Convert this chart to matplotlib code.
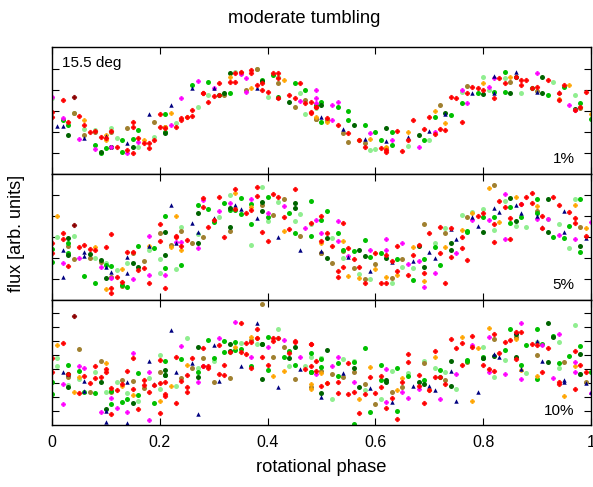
import matplotlib
matplotlib.use("Agg")
import matplotlib.pyplot as plt

plt.rcParams['font.family'] = ['Liberation Sans', 'DejaVu Sans']

# ---- phase / flux samples, one list per colour series and panel ----
# panel 1 (1% noise)
p1_red = [(0.00, 2.97), (0.00, 2.73), (0.02, 3.52), (0.05, 2.76), (0.03, 2.49), (0.06, 2.33), (0.07, 2.02),
          (0.08, 2.05), (0.09, 1.78), (0.11, 2.06), (0.10, 1.70), (0.12, 1.30), (0.14, 1.14), (0.15, 0.98),
          (0.15, 2.49), (0.15, 2.25), (0.16, 1.70), (0.17, 1.46), (0.18, 1.22), (0.18, 1.46), (0.19, 1.62),
          (0.20, 2.86), (0.20, 2.25), (0.21, 2.17), (0.23, 2.25), (0.24, 2.57), (0.24, 2.65), (0.25, 2.73),
          (0.26, 2.76), (0.26, 3.05), (0.28, 3.84), (0.28, 3.84), (0.29, 3.44), (0.30, 3.70), (0.31, 4.32),
          (0.31, 3.76), (0.33, 4.40), (0.34, 4.40), (0.34, 4.79), (0.35, 4.84), (0.37, 4.95), (0.37, 4.79),
          (0.38, 4.24), (0.39, 4.32), (0.39, 4.00), (0.40, 3.92), (0.41, 4.79), (0.42, 4.82), (0.42, 4.56),
          (0.42, 3.60), (0.44, 3.76), (0.45, 3.60), (0.46, 4.32), (0.47, 3.40), (0.48, 3.44), (0.48, 2.97),
          (0.49, 3.21), (0.48, 2.92), (0.49, 3.21), (0.51, 2.65), (0.53, 2.33), (0.55, 1.94), (0.57, 1.62),
          (0.58, 1.30), (0.61, 1.22), (0.62, 1.14), (0.62, 1.06), (0.64, 2.06), (0.65, 1.11), (0.66, 1.62),
          (0.67, 2.57), (0.69, 2.13), (0.70, 2.70), (0.71, 1.90), (0.72, 2.13), (0.73, 2.10), (0.74, 3.68),
          (0.75, 3.60), (0.76, 2.49), (0.77, 3.87), (0.78, 4.16), (0.79, 4.08), (0.80, 4.00), (0.82, 3.60),
          (0.83, 4.56), (0.84, 4.32), (0.86, 4.63), (0.87, 4.48), (0.87, 4.24), (0.88, 4.48), (0.89, 4.08),
          (0.90, 4.16), (0.92, 4.48), (0.94, 3.52), (0.94, 3.84), (0.95, 4.24), (0.98, 3.21), (0.99, 3.92),
          (0.97, 3.05)]
p1_magenta = [(0.00, 3.65), (0.02, 2.66), (0.05, 1.67), (0.08, 1.19), (0.11, 1.30), (0.14, 0.98), (0.16, 1.54),
              (0.22, 2.33), (0.24, 3.60), (0.27, 4.44), (0.30, 4.08), (0.35, 4.76), (0.36, 4.56), (0.36, 3.92),
              (0.46, 3.48), (0.49, 3.40), (0.49, 3.60), (0.49, 3.98), (0.52, 3.28), (0.53, 3.44), (0.52, 2.57),
              (0.59, 1.94), (0.63, 1.62), (0.68, 1.30), (0.71, 2.02), (0.76, 3.98), (0.77, 3.37), (0.81, 4.16),
              (0.82, 4.56), (0.90, 4.83), (0.96, 3.28), (0.97, 3.05)]
p1_orange = [(0.06, 2.57), (0.10, 1.86), (0.10, 1.62), (0.17, 1.62), (0.21, 2.25), (0.22, 2.89), (0.25, 2.73),
             (0.33, 4.63), (0.35, 4.79), (0.37, 4.08), (0.43, 4.48), (0.49, 2.73), (0.51, 2.49), (0.57, 1.62),
             (0.59, 1.65), (0.62, 1.30), (0.66, 2.02), (0.71, 3.02), (0.73, 2.44), (0.80, 4.32), (0.85, 4.60),
             (0.94, 3.55), (0.96, 4.24), (1.00, 2.86)]
p1_green = [(0.02, 2.57), (0.03, 2.33), (0.08, 1.38), (0.09, 0.98), (0.10, 1.22), (0.11, 1.30), (0.13, 1.06),
            (0.13, 1.62), (0.15, 1.65), (0.16, 2.09), (0.21, 2.86), (0.21, 2.00), (0.26, 4.24), (0.29, 4.40),
            (0.31, 3.76), (0.33, 3.84), (0.35, 4.83), (0.39, 4.50), (0.41, 4.71), (0.42, 3.68), (0.45, 4.32),
            (0.47, 4.00), (0.49, 3.28), (0.50, 3.44), (0.50, 2.49), (0.53, 3.21), (0.55, 3.02), (0.55, 2.57),
            (0.58, 2.33), (0.60, 1.98), (0.61, 1.62), (0.63, 2.02), (0.63, 1.38), (0.69, 1.62), (0.71, 2.70),
            (0.74, 2.81), (0.76, 3.37), (0.79, 3.84), (0.82, 3.92), (0.84, 4.87), (0.84, 3.92), (0.89, 4.08),
            (0.92, 3.76), (0.95, 4.16), (0.98, 3.40), (1.00, 2.62)]
p1_darkgreen = [(0.03, 1.86), (0.09, 1.03), (0.11, 1.27), (0.15, 1.30), (0.21, 1.94), (0.32, 3.84), (0.33, 4.79),
                (0.39, 4.45), (0.44, 3.44), (0.50, 3.28), (0.56, 2.33), (0.62, 2.17), (0.68, 1.86), (0.73, 2.92),
                (0.80, 3.81), (0.85, 3.87), (0.86, 4.60), (0.91, 3.84), (0.91, 4.63), (0.97, 3.08)]
p1_lightgreen = [(0.00, 3.60), (0.04, 2.89), (0.06, 2.13), (0.08, 2.09), (0.11, 2.17), (0.12, 1.70), (0.16, 1.27),
                 (0.19, 1.78), (0.23, 2.44), (0.27, 3.21), (0.29, 3.76), (0.31, 3.76), (0.34, 4.87), (0.38, 4.98),
                 (0.40, 3.65), (0.42, 4.60), (0.46, 3.84), (0.47, 2.86), (0.49, 3.13), (0.57, 1.62), (0.59, 1.14),
                 (0.60, 1.17), (0.66, 1.33), (0.70, 1.62), (0.76, 3.92), (0.80, 4.63), (0.81, 3.98), (0.84, 4.56),
                 (0.87, 3.84), (0.93, 4.40), (0.97, 3.76)]
p1_brown = [(0.04, 2.89), (0.06, 1.86), (0.08, 2.02), (0.11, 2.02), (0.14, 2.17), (0.19, 2.49), (0.21, 2.22),
            (0.32, 3.76), (0.36, 4.00), (0.38, 4.98), (0.42, 4.32), (0.45, 3.21), (0.47, 3.52), (0.49, 2.60),
            (0.49, 2.62), (0.51, 2.57), (0.54, 1.97), (0.55, 1.54), (0.58, 1.46), (0.62, 1.22), (0.72, 3.28),
            (0.77, 4.19), (0.85, 4.40), (0.90, 3.97), (0.98, 3.13)]
p1_navy = [(0.01, 2.29), (0.02, 2.29), (0.06, 1.70), (0.10, 1.81), (0.14, 1.46), (0.18, 2.86), (0.22, 3.30),
           (0.26, 4.10), (0.30, 4.10), (0.38, 4.08), (0.42, 3.68), (0.50, 2.70), (0.54, 2.13), (0.58, 1.67),
           (0.62, 1.59), (0.66, 1.78), (0.70, 2.06), (0.73, 2.86), (0.78, 3.87), (0.82, 3.84), (0.82, 4.67),
           (0.86, 4.87), (0.90, 3.92), (0.94, 3.92)]
p1_darkred = [(0.04, 3.65)]

# panel 2 (5% noise)
p2_red = [(0.00, 2.73), (0.00, 2.25), (0.02, 2.89), (0.02, 3.20), (0.03, 1.62), (0.05, 2.50), (0.06, 2.60),
          (0.07, 2.45), (0.08, 2.38), (0.10, 2.50), (0.11, 3.13), (0.11, 0.55), (0.11, 0.35), (0.12, 1.11),
          (0.13, 0.87), (0.14, 2.30), (0.15, 2.28), (0.16, 1.43), (0.17, 1.50), (0.18, 0.79), (0.20, 3.62),
          (0.20, 2.83), (0.21, 0.55), (0.23, 3.05), (0.23, 3.00), (0.24, 2.57), (0.25, 2.86), (0.28, 4.84),
          (0.28, 4.41), (0.29, 3.46), (0.30, 3.80), (0.31, 4.92), (0.32, 2.98), (0.34, 5.27), (0.34, 4.32),
          (0.36, 4.13), (0.37, 4.29), (0.38, 5.36), (0.38, 4.95), (0.39, 3.22), (0.40, 2.83), (0.41, 5.05),
          (0.42, 4.92), (0.43, 3.97), (0.44, 3.40), (0.45, 5.27), (0.48, 3.68), (0.50, 2.81), (0.50, 4.00),
          (0.51, 3.17), (0.52, 2.57), (0.53, 1.11), (0.53, 1.40), (0.54, 3.68), (0.54, 1.55), (0.55, 2.46),
          (0.56, 1.94), (0.57, 1.59), (0.58, 0.83), (0.60, 2.22), (0.61, 0.83), (0.62, 2.14), (0.62, 0.83),
          (0.63, 1.87), (0.64, 1.40), (0.64, 2.57), (0.66, 1.19), (0.67, 2.14), (0.68, 2.62), (0.69, 1.30),
          (0.70, 3.21), (0.72, 3.46), (0.72, 2.25), (0.73, 0.79), (0.74, 2.03), (0.74, 3.41), (0.76, 3.00),
          (0.76, 2.46), (0.77, 1.90), (0.79, 4.00), (0.80, 4.16), (0.82, 3.62), (0.82, 2.78), (0.83, 4.73),
          (0.84, 4.44), (0.85, 2.89), (0.85, 3.89), (0.87, 4.57), (0.88, 4.92), (0.89, 5.08), (0.89, 4.60),
          (0.91, 4.00), (0.91, 3.41), (0.93, 4.92), (0.94, 4.52), (0.96, 4.21), (0.97, 3.89), (0.97, 3.65),
          (0.99, 3.05)]
p2_magenta = [(0.02, 1.75), (0.05, 1.98), (0.09, 1.55), (0.11, 1.03), (0.15, 0.98), (0.18, 1.19), (0.18, 3.05),
              (0.21, 1.19), (0.23, 2.78), (0.24, 2.78), (0.27, 2.46), (0.28, 4.76), (0.31, 4.25), (0.33, 4.60),
              (0.37, 4.79), (0.40, 4.16), (0.43, 4.48), (0.47, 3.44), (0.49, 3.81), (0.50, 3.21), (0.53, 2.82),
              (0.53, 3.78), (0.55, 2.09), (0.59, 2.38), (0.62, 2.89), (0.62, 2.38), (0.65, 2.73), (0.66, 1.71),
              (0.68, 1.87), (0.69, 0.60), (0.71, 1.27), (0.75, 2.22), (0.78, 3.81), (0.81, 3.81), (0.84, 2.89),
              (0.84, 5.05), (0.87, 4.57), (0.90, 3.84), (0.92, 3.84), (0.94, 3.10), (0.97, 2.89), (1.00, 3.73)]
p2_orange = [(0.01, 4.00), (0.08, 2.54), (0.10, 0.51), (0.13, 1.46), (0.18, 2.57), (0.22, 2.50), (0.23, 4.00),
             (0.24, 2.38), (0.34, 5.11), (0.37, 4.44), (0.43, 3.29), (0.50, 2.73), (0.54, 2.82), (0.55, 1.14),
             (0.57, 1.03), (0.60, 1.46), (0.62, 1.11), (0.64, 1.19), (0.67, 2.54), (0.69, 0.92), (0.73, 2.51),
             (0.76, 3.33), (0.78, 4.13), (0.81, 5.32), (0.83, 3.73), (0.86, 4.89), (0.90, 4.48), (0.97, 4.52),
             (0.99, 3.41)]
p2_green = [(0.00, 1.83), (0.00, 2.41), (0.03, 2.73), (0.03, 2.22), (0.06, 1.14), (0.08, 0.79), (0.10, 1.67),
            (0.11, 1.62), (0.13, 0.71), (0.14, 0.62), (0.16, 2.57), (0.19, 2.46), (0.21, 1.50), (0.21, 4.00),
            (0.24, 1.67), (0.27, 4.52), (0.29, 4.32), (0.30, 3.73), (0.32, 4.63), (0.33, 4.30), (0.34, 4.30),
            (0.35, 4.84), (0.35, 4.10), (0.37, 3.62), (0.37, 4.57), (0.40, 4.92), (0.40, 3.94), (0.44, 4.16),
            (0.45, 3.17), (0.48, 4.73), (0.48, 3.05), (0.50, 3.81), (0.51, 4.24), (0.53, 3.21), (0.54, 2.38),
            (0.56, 2.35), (0.58, 2.86), (0.59, 2.05), (0.61, 2.22), (0.64, 1.94), (0.67, 0.95), (0.69, 1.94),
            (0.71, 2.50), (0.72, 1.67), (0.77, 3.30), (0.77, 3.25), (0.80, 3.94), (0.82, 3.94), (0.85, 4.41),
            (0.85, 3.65), (0.87, 3.97), (0.90, 4.79), (0.90, 4.16), (0.93, 2.98), (0.95, 2.94), (0.96, 3.52),
            (0.98, 4.79), (0.98, 2.30)]
p2_darkgreen = [(0.03, 2.94), (0.03, 2.16), (0.07, 2.19), (0.09, 1.90), (0.10, 1.03), (0.15, 1.75), (0.16, 1.59),
                (0.21, 2.14), (0.21, 3.25), (0.27, 2.73), (0.27, 4.13), (0.33, 3.46), (0.33, 4.37), (0.39, 4.68),
                (0.39, 4.25), (0.45, 4.63), (0.45, 4.36), (0.51, 2.94), (0.51, 1.98), (0.57, 2.38), (0.58, 2.10),
                (0.62, 1.98), (0.68, 2.57), (0.69, 1.55), (0.74, 2.73), (0.74, 2.38), (0.80, 3.25), (0.85, 4.84),
                (0.86, 3.78), (0.92, 4.79), (0.92, 3.25), (0.98, 2.57)]
p2_lightgreen = [(0.01, 2.98), (0.04, 3.05), (0.08, 1.98), (0.10, 1.78), (0.12, 1.43), (0.14, 1.78), (0.18, 2.38),
                 (0.20, 1.94), (0.20, 1.27), (0.23, 1.46), (0.24, 3.46), (0.27, 3.14), (0.31, 3.97), (0.33, 5.00),
                 (0.37, 2.62), (0.39, 5.36), (0.40, 3.78), (0.42, 4.65), (0.45, 3.78), (0.46, 4.10), (0.48, 3.62),
                 (0.52, 2.94), (0.54, 1.98), (0.57, 1.24), (0.59, 0.98), (0.63, 0.79), (0.65, 1.55), (0.67, 1.51),
                 (0.71, 2.73), (0.73, 3.41), (0.76, 4.05), (0.78, 4.21), (0.80, 4.32), (0.82, 3.33), (0.84, 4.73),
                 (0.86, 3.50), (0.88, 3.46), (0.92, 3.84), (0.94, 3.62), (0.96, 2.46), (0.97, 4.79)]
p2_brown = [(0.03, 2.57), (0.04, 1.94), (0.07, 1.98), (0.09, 1.83), (0.11, 1.11), (0.13, 0.67), (0.15, 2.22),
            (0.17, 1.87), (0.20, 3.21), (0.22, 2.62), (0.24, 3.29), (0.26, 2.70), (0.28, 2.98), (0.33, 3.30),
            (0.39, 4.52), (0.41, 4.05), (0.43, 4.79), (0.46, 3.06), (0.50, 2.22), (0.50, 2.25), (0.52, 1.78),
            (0.54, 2.35), (0.56, 1.51), (0.58, 0.98), (0.60, 1.71), (0.63, 1.03), (0.65, 1.94), (0.69, 3.62),
            (0.73, 3.21), (0.77, 3.94), (0.82, 5.48), (0.90, 4.25), (0.98, 3.46)]
p2_navy = [(0.02, 1.11), (0.02, 2.38), (0.06, 2.28), (0.06, 2.10), (0.10, 1.55), (0.11, 1.35), (0.14, 2.03),
           (0.14, 1.27), (0.18, 2.57), (0.22, 4.51), (0.23, 2.73), (0.26, 3.68), (0.27, 3.25), (0.30, 3.89),
           (0.34, 4.52), (0.35, 4.32), (0.38, 3.89), (0.42, 3.00), (0.46, 2.38), (0.50, 2.35), (0.55, 2.03),
           (0.59, 1.40), (0.63, 1.83), (0.67, 1.87), (0.70, 2.30), (0.71, 1.98), (0.74, 3.36), (0.75, 2.89),
           (0.79, 3.52), (0.78, 3.97), (0.82, 4.36), (0.83, 4.20), (0.86, 4.52), (0.87, 4.16), (0.91, 3.46),
           (0.90, 4.00), (0.95, 4.25), (0.95, 3.25), (0.99, 2.94)]
p2_darkred = [(0.04, 3.57)]

# panel 3 (10% noise)
p3_red = [(0.00, 4.80), (0.00, 3.77), (0.02, 5.85), (0.03, 3.63), (0.05, 2.27), (0.06, 3.50), (0.07, 2.99),
          (0.08, 3.39), (0.09, 3.46), (0.08, 4.18), (0.10, 4.00), (0.10, 3.77), (0.11, 2.67), (0.11, 0.77),
          (0.12, 2.51), (0.13, 2.90), (0.14, 3.87), (0.15, 2.58), (0.15, 4.78), (0.16, 1.15), (0.17, 3.23),
          (0.17, 2.85), (0.18, 2.35), (0.19, 2.87), (0.20, 4.66), (0.20, 2.99), (0.20, 0.84), (0.21, 2.04),
          (0.21, 3.10), (0.21, 2.20), (0.23, 1.56), (0.23, 4.89), (0.24, 3.15), (0.25, 2.75), (0.25, 3.58),
          (0.25, 2.39), (0.26, 4.82), (0.28, 4.18), (0.28, 5.49), (0.29, 4.18), (0.29, 4.10), (0.31, 3.63),
          (0.31, 5.68), (0.32, 3.58), (0.32, 4.30), (0.33, 5.20), (0.35, 7.27), (0.35, 5.25), (0.36, 5.85),
          (0.36, 5.06), (0.37, 4.06), (0.37, 5.96), (0.38, 6.87), (0.38, 6.25), (0.39, 4.89), (0.40, 4.30),
          (0.41, 6.01), (0.41, 6.20), (0.42, 6.20), (0.44, 5.13), (0.45, 5.96), (0.45, 6.01), (0.47, 4.00),
          (0.48, 5.77), (0.48, 4.25), (0.49, 3.87), (0.48, 5.77), (0.49, 4.60), (0.50, 2.82), (0.51, 2.99),
          (0.53, 3.05), (0.53, 2.27), (0.55, 2.20), (0.55, 4.41), (0.56, 2.34), (0.57, 0.84), (0.58, 2.20),
          (0.59, 3.46), (0.60, 2.27), (0.61, 3.53), (0.61, 2.75), (0.62, 1.24), (0.63, 1.91), (0.64, 0.43),
          (0.65, 3.05), (0.66, 4.53), (0.66, 5.05), (0.68, 3.58), (0.68, 2.82), (0.69, 1.55), (0.70, 2.51),
          (0.71, 5.29), (0.71, 3.46), (0.72, 3.46), (0.73, 2.91), (0.74, 6.15), (0.75, 5.53), (0.76, 4.29),
          (0.76, 5.84), (0.78, 6.39), (0.78, 5.60), (0.80, 4.29), (0.81, 4.00), (0.82, 3.86), (0.82, 6.48),
          (0.83, 5.13), (0.84, 5.96), (0.85, 6.08), (0.86, 6.62), (0.86, 4.70), (0.87, 6.62), (0.89, 5.77),
          (0.90, 5.72), (0.91, 3.77), (0.92, 5.53), (0.94, 2.91), (0.94, 3.05), (0.97, 5.29), (0.97, 2.58),
          (0.98, 4.29), (0.99, 3.77)]
p3_magenta = [(0.02, 2.91), (0.02, 1.49), (0.05, 4.18), (0.06, 4.06), (0.09, 0.91), (0.11, 1.91), (0.12, 1.24),
              (0.14, 0.91), (0.15, 5.13), (0.18, 0.36), (0.18, 3.77), (0.24, 5.61), (0.27, 3.05), (0.28, 4.18),
              (0.31, 6.25), (0.34, 7.39), (0.37, 4.89), (0.40, 5.60), (0.43, 6.08), (0.46, 4.89), (0.49, 3.63),
              (0.53, 4.89), (0.52, 4.24), (0.56, 3.05), (0.62, 4.00), (0.62, 1.62), (0.65, 2.34), (0.66, 1.96),
              (0.68, 2.58), (0.72, 1.86), (0.75, 3.62), (0.78, 5.72), (0.81, 6.31), (0.81, 3.77), (0.84, 3.62),
              (0.87, 3.29), (0.87, 7.27), (0.91, 5.72), (0.93, 3.34), (0.94, 6.48), (0.97, 3.77), (0.97, 4.53),
              (1.00, 2.27)]
p3_orange = [(0.01, 5.68), (0.04, 2.39), (0.05, 3.46), (0.10, 4.41), (0.13, 2.82), (0.15, 2.15), (0.20, 1.73),
             (0.22, 2.82), (0.25, 4.30), (0.34, 5.54), (0.37, 6.32), (0.38, 6.20), (0.41, 3.53), (0.43, 3.87),
             (0.48, 2.58), (0.48, 2.91), (0.50, 3.70), (0.51, 2.99), (0.57, 1.86), (0.59, 4.17), (0.64, 2.51),
             (0.65, 3.39), (0.70, 2.51), (0.71, 4.89), (0.76, 6.31), (0.78, 1.72), (0.79, 5.53), (0.81, 6.96),
             (0.86, 6.15), (0.87, 3.93), (0.90, 3.53), (0.95, 2.10), (0.97, 4.24)]
p3_green = [(0.00, 2.20), (0.00, 3.05), (0.03, 4.30), (0.05, 3.87), (0.06, 2.39), (0.08, 2.27), (0.11, 1.49),
            (0.11, 2.44), (0.13, 1.63), (0.14, 1.87), (0.16, 2.11), (0.16, 3.70), (0.19, 1.56), (0.21, 4.58),
            (0.21, 3.58), (0.24, 4.72), (0.27, 3.82), (0.30, 4.82), (0.29, 6.08), (0.32, 6.01), (0.32, 5.20),
            (0.34, 5.37), (0.34, 5.91), (0.35, 5.44), (0.37, 4.18), (0.39, 5.77), (0.40, 6.32), (0.40, 3.94),
            (0.43, 4.89), (0.44, 5.29), (0.45, 4.30), (0.48, 5.13), (0.48, 3.77), (0.48, 3.77), (0.50, 4.72),
            (0.50, 4.17), (0.53, 3.53), (0.53, 4.41), (0.56, 4.48), (0.58, 5.53), (0.59, 0.91), (0.56, 0.05),
            (0.61, 4.29), (0.61, 3.22), (0.64, 1.00), (0.64, 4.10), (0.66, 3.53), (0.69, 3.20), (0.72, 3.93),
            (0.72, 3.46), (0.77, 4.65), (0.77, 4.58), (0.80, 4.81), (0.80, 4.88), (0.84, 5.36), (0.85, 6.86),
            (0.87, 4.29), (0.88, 5.72), (0.91, 5.77), (0.90, 6.86), (0.90, 3.29), (0.93, 6.39), (0.94, 4.41),
            (0.96, 4.96), (0.98, 5.67), (1.00, 3.77)]
p3_darkgreen = [(0.03, 2.75), (0.03, 3.63), (0.09, 3.05), (0.10, 1.15), (0.15, 1.56), (0.21, 3.58), (0.21, 3.94),
                (0.27, 3.46), (0.27, 5.54), (0.33, 5.77), (0.33, 5.30), (0.39, 3.30), (0.39, 5.77), (0.44, 4.77),
                (0.45, 5.54), (0.51, 5.36), (0.50, 2.27), (0.56, 4.10), (0.57, 2.74), (0.62, 3.20), (0.62, 3.05),
                (0.68, 3.05), (0.69, 2.91), (0.74, 2.82), (0.74, 4.58), (0.80, 4.81), (0.82, 4.96), (0.86, 6.48),
                (0.86, 4.89), (0.92, 4.53), (0.92, 7.27), (0.93, 6.31), (0.98, 3.62), (0.98, 5.05)]
p3_lightgreen = [(0.01, 4.82), (0.01, 4.25), (0.03, 2.84), (0.05, 3.30), (0.08, 3.77), (0.10, 2.39), (0.12, 3.05),
                 (0.14, 2.27), (0.16, 1.73), (0.18, 3.39), (0.20, 5.00), (0.20, 2.58), (0.23, 2.82), (0.25, 6.25),
                 (0.27, 4.10), (0.30, 4.58), (0.33, 5.25), (0.35, 5.85), (0.38, 5.77), (0.42, 6.87), (0.42, 6.25),
                 (0.44, 4.18), (0.47, 4.18), (0.50, 4.82), (0.48, 4.89), (0.50, 4.82), (0.52, 1.86), (0.54, 4.72),
                 (0.56, 4.58), (0.58, 2.51), (0.61, 1.86), (0.63, 3.86), (0.66, 3.70), (0.69, 4.58), (0.71, 4.10),
                 (0.73, 3.77), (0.75, 2.58), (0.80, 5.60), (0.82, 3.46), (0.84, 4.65), (0.88, 3.70), (0.90, 5.91),
                 (0.94, 5.91), (0.94, 4.10), (0.97, 7.15), (0.98, 3.62)]
p3_brown = [(0.03, 3.46), (0.05, 5.44), (0.07, 2.39), (0.09, 4.58), (0.11, 2.35), (0.13, 3.23), (0.15, 3.15),
            (0.17, 2.67), (0.20, 3.82), (0.24, 3.34), (0.26, 4.10), (0.28, 4.77), (0.30, 3.10), (0.33, 3.34),
            (0.37, 6.08), (0.39, 8.62), (0.41, 4.89), (0.43, 5.60), (0.45, 3.30), (0.48, 2.75), (0.50, 3.86),
            (0.52, 3.62), (0.54, 3.46), (0.56, 3.77), (0.58, 2.91), (0.60, 1.48), (0.63, 2.34), (0.65, 2.74),
            (0.69, 4.41), (0.73, 3.22), (0.77, 4.53), (0.82, 6.15), (0.86, 6.31), (0.90, 5.00), (0.95, 4.53),
            (0.99, 3.05)]
p3_navy = [(0.02, 3.82), (0.03, 3.63), (0.06, 2.44), (0.06, 3.15), (0.10, 1.01), (0.10, 0.20), (0.14, 3.05),
           (0.14, 0.13), (0.18, 4.58), (0.19, 2.91), (0.22, 6.77), (0.23, 3.82), (0.26, 4.41), (0.27, 0.77),
           (0.30, 5.73), (0.31, 3.15), (0.35, 4.18), (0.38, 7.27), (0.42, 2.75), (0.46, 4.00), (0.50, 2.03),
           (0.54, 3.70), (0.59, 2.62), (0.63, 1.67), (0.67, 2.82), (0.70, 2.82), (0.71, 2.51), (0.74, 3.86),
           (0.75, 1.72), (0.79, 2.39), (0.82, 5.05), (0.83, 4.89), (0.86, 6.62), (0.87, 4.00), (0.90, 6.00),
           (0.91, 4.58), (0.95, 3.05), (0.95, 3.20), (0.99, 2.98), (1.00, 2.34)]
p3_darkred = [(0.04, 7.82)]

panel_labels = ["1%", "5%", "10%"]
panel_ylims = [(0, 6.05), (0, 6.0), (0, 8.93)]
panel_yticks = [[1, 2, 3, 4, 5], [1, 2, 3, 4, 5], [1, 2, 3, 4, 5, 6, 7, 8]]
xticks = [0, 0.2, 0.4, 0.6, 0.8, 1]

# marker style per colour series: (colour, marker, size, edge width)
styles = {
    "lightgreen": ("#90ee90", "o", 3.6, 0),
    "brown": ("#a08030", "o", 3.6, 0),
    "green": ("#00c000", "o", 3.6, 0),
    "darkgreen": ("#006400", "o", 3.6, 0),
    "orange": ("#ffa500", "P", 3.0, 0.5),
    "magenta": ("#ff00ff", "P", 3.0, 0.5),
    "navy": ("#000080", "^", 3.2, 0),
    "red": ("#ff0000", "P", 3.2, 0.5),
    "darkred": ("#8b0000", "P", 3.2, 0.5),
}
order = ["lightgreen", "brown", "green", "darkgreen", "orange", "magenta", "navy", "red", "darkred"]

panels = [
    {"lightgreen": p1_lightgreen, "brown": p1_brown, "green": p1_green, "darkgreen": p1_darkgreen,
     "orange": p1_orange, "magenta": p1_magenta, "navy": p1_navy, "red": p1_red, "darkred": p1_darkred},
    {"lightgreen": p2_lightgreen, "brown": p2_brown, "green": p2_green, "darkgreen": p2_darkgreen,
     "orange": p2_orange, "magenta": p2_magenta, "navy": p2_navy, "red": p2_red, "darkred": p2_darkred},
    {"lightgreen": p3_lightgreen, "brown": p3_brown, "green": p3_green, "darkgreen": p3_darkgreen,
     "orange": p3_orange, "magenta": p3_magenta, "navy": p3_navy, "red": p3_red, "darkred": p3_darkred},
]

fig = plt.figure(figsize=(5.93, 4.87), dpi=100)

# axes boxes in figure fractions, top to bottom
boxes = [(0.0877, 0.6427, 0.9089, 0.2608),
         (0.0877, 0.3840, 0.9089, 0.2587),
         (0.0877, 0.1273, 0.9089, 0.2567)]

for i, (data, box) in enumerate(zip(panels, boxes)):
    ax = fig.add_axes(box)
    for name in order:
        pts = data[name]
        col, mk, ms, mew = styles[name]
        xs = [p[0] for p in pts]
        ys = [p[1] for p in pts]
        ax.plot(xs, ys, linestyle="none", marker=mk, color=col, markersize=ms,
                markeredgewidth=mew, markeredgecolor=col, clip_on=True)
    ax.set_xlim(0, 1)
    ax.set_ylim(*panel_ylims[i])
    ax.set_xticks(xticks)
    ax.set_yticks(panel_yticks[i])
    ax.set_yticklabels([])
    ax.tick_params(direction="in", length=5, width=0.8, top=True, right=True, labelsize=11.5, pad=7)
    if i < 2:
        ax.set_xticklabels([])
    else:
        ax.set_xticklabels(["0", "0.2", "0.4", "0.6", "0.8", "1"])
        ax.set_xlabel("rotational phase", fontsize=13.2, labelpad=7)
    for s in ax.spines.values():
        s.set_linewidth(1.0)
    ax.text(0.97, 0.06, panel_labels[i], transform=ax.transAxes, ha="right", va="bottom", fontsize=11)
    if i == 0:
        ax.text(0.018, 0.93, "15.5 deg", transform=ax.transAxes, ha="left", va="top", fontsize=11)

fig.text(0.513, 0.962, "moderate tumbling", ha="center", va="center", fontsize=13.2)
fig.text(0.028, 0.52, "flux [arb. units]", ha="center", va="center", rotation=90, fontsize=13)

fig.savefig("out.png", dpi=100)
